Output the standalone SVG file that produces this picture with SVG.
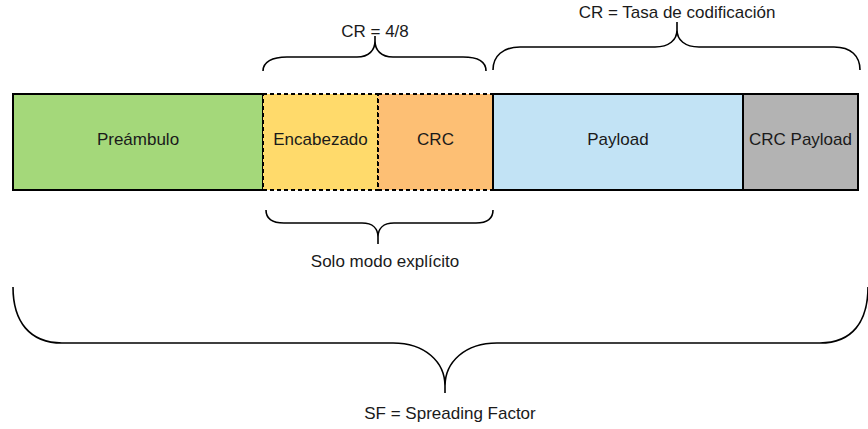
<svg xmlns="http://www.w3.org/2000/svg" width="868" height="429" viewBox="0 0 868 429">
<style>
.box{stroke:#000;stroke-width:2}
.dash{stroke:#000;stroke-width:2;stroke-dasharray:4 3}
.lbl{font-family:"Liberation Sans",Arial,sans-serif;font-size:17px;fill:#1a1a1a;text-anchor:middle}
.brace{fill:none;stroke:#000;stroke-width:1.6}
</style>
<rect width="868" height="429" fill="#fff"/>
<g id="preambulo"><rect class="box" x="13" y="94" width="250" height="96" fill="#a4d87a"/><text class="lbl" x="138" y="145">Preámbulo</text></g>
<g id="encabezado"><rect class="dash" x="263" y="94" width="115" height="96" fill="#ffda6b"/><text class="lbl" x="320.5" y="145">Encabezado</text></g>
<g id="crc"><rect class="dash" x="378" y="94" width="115" height="96" fill="#fdbf74"/><text class="lbl" x="435.5" y="145">CRC</text></g>
<g id="payload"><rect class="box" x="493" y="94" width="250" height="96" fill="#c2e3f5"/><text class="lbl" x="618" y="145">Payload</text></g>
<g id="crcpayload"><rect class="box" x="743" y="94" width="115" height="96" fill="#b3b3b3"/><text class="lbl" x="800.5" y="145">CRC Payload</text></g>
<g id="connectors">
<path class="brace" d="M263,71 C263,62 272,57 287,57 L357,57 C369,57 375,50 375,41 L375,36 M375,41 C375,50 381,57 393,57 L463,57 C478,57 486,62 486,71"/>
<path class="brace" d="M493,70 C493,56 503,47 520,47 L655,47 C669,47 677,40 677,30 L677,22 M677,30 C677,40 685,47 699,47 L834,47 C851,47 860,56 860,70"/>
<path class="brace" d="M266,210 C266,218 272,223 284,223 L362,223 C373,223 378,229 378,237 L378,244 M378,237 C378,229 383,223 394,223 L476,223 C488,223 493,218 493,210"/>
<path class="brace" d="M13,287 C13,322 30,343 62,343 L393,343 C425,343 445,362 445,386 L445,393 M445,386 C445,362 465,343 497,343 L820,343 C852,343 868,322 868,287"/>
</g>
<g id="labels">
<text class="lbl" x="375" y="37">CR = 4/8</text>
<text class="lbl" x="677" y="18">CR = Tasa de codificación</text>
<text class="lbl" x="385" y="267">Solo modo explícito</text>
<text class="lbl" x="450" y="419">SF = Spreading Factor</text>
</g>
</svg>
